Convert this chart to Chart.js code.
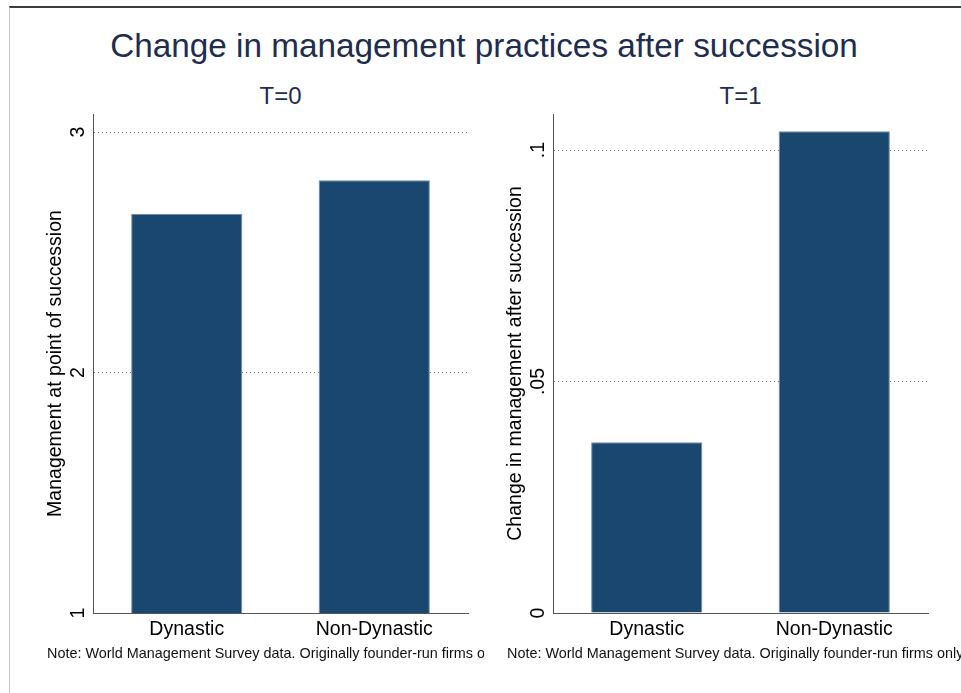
<!DOCTYPE html>
<html>
<head>
<meta charset="utf-8">
<script src="https://cdn.jsdelivr.net/npm/chart.js@4.4.0/dist/chart.umd.min.js"></script>
<style>
  body { margin: 0; background: #fff; width: 961px; height: 693px; overflow: hidden; position: relative;
         font-family: "Liberation Sans", Arial, sans-serif; }
  .frame { position: absolute; left: 9px; top: 6px; right: 0; bottom: 0;
           border-top: 2px solid #3c3c3c; border-left: 1px solid #c4c4c4; }
  .title { position: absolute; top: 28.5px; left: 484px; transform: translateX(-50%);
           font-size: 33.3px; line-height: 33.3px; color: #1f2d4f; white-space: nowrap; }
  .sub { position: absolute; top: 84px; transform: translateX(-50%);
         font-size: 24px; line-height: 24px; color: #1f2d4f; white-space: nowrap; }
  .note { position: absolute; top: 646px; font-size: 14.4px; line-height: 15px;
          white-space: nowrap; overflow: hidden; color: #111; }
  canvas { position: absolute; top: 110px; }
</style>
</head>
<body>
<div class="frame"></div>
<div class="title">Change in management practices after succession</div>
<div class="sub" style="left:280.5px">T=0</div>
<div class="sub" style="left:740.5px">T=1</div>
<canvas id="left" width="486" height="540" style="left:0px"></canvas>
<canvas id="right" width="486" height="540" style="left:460px"></canvas>
<div class="note" style="left:47px; width:437px">Note: World Management Survey data. Originally founder-run firms only</div>
<div class="note" style="left:507px; width:454px">Note: World Management Survey data. Originally founder-run firms only</div>
<script>
var categories = ["Dynastic", "Non-Dynastic"];
var levelAtSuccession = [2.66, 2.80];
var changeAfterSuccession = [0.0369, 0.1041];
var levelTicks = [1, 2, 3];
var levelTickLabels = ["1", "2", "3"];
var changeTicks = [0, 0.05, 0.1];
var changeTickLabels = ["0", ".05", ".1"];

var fontFamily = '"Liberation Sans", Arial, sans-serif';

function panel(id, values, ticks, tickLabels, yMin, yMax, yTitle, tickPad) {
  return new Chart(document.getElementById(id), {
    type: 'bar',
    data: {
      labels: categories,
      datasets: [{
        data: values,
        backgroundColor: '#1a476f',
        borderColor: '#6a88a6',
        borderWidth: 1,
        barPercentage: 0.593,
        categoryPercentage: 1
      }]
    },
    options: {
      responsive: false,
      animation: false,
      devicePixelRatio: 1,
      layout: { padding: { top: 4, right: 18, left: 0, bottom: 0 } },
      plugins: { legend: { display: false }, tooltip: { enabled: false } },
      scales: {
        x: {
          offset: true,
          grid: { display: false, drawTicks: false },
          border: { color: '#555', width: 1 },
          ticks: { color: '#000', font: { size: 19.5, family: fontFamily }, padding: 5 },
          afterFit: function (s) { s.height = 37; s.paddingLeft = 0; s.paddingRight = 0; }
        },
        y: {
          min: yMin,
          max: yMax,
          afterBuildTicks: function (s) {
            s.ticks = ticks.map(function (v) { return { value: v }; });
          },
          ticks: {
            minRotation: 90,
            maxRotation: 90,
            crossAlign: 'center',
            padding: tickPad,
            color: '#000',
            font: { size: 19.5, family: fontFamily },
            callback: function (v) {
              for (var i = 0; i < ticks.length; i++) {
                if (Math.abs(ticks[i] - v) < 1e-9) return tickLabels[i];
              }
              return '';
            }
          },
          grid: { color: '#7a7a7a', drawTicks: false },
          border: { color: '#555', width: 1, dash: [1, 3] },
          title: {
            display: true,
            text: yTitle,
            color: '#000',
            font: { size: 19.5, family: fontFamily },
            padding: { top: 44, bottom: 0 }
          },
          afterFit: function (s) { s.width = 93; s.paddingTop = 0; s.paddingBottom = 0; }
        }
      }
    }
  });
}

panel('left', levelAtSuccession, levelTicks, levelTickLabels, 1, 3.075,
      'Management at point of succession', 9.4);
panel('right', changeAfterSuccession, changeTicks, changeTickLabels, 0, 0.1078,
      'Change in management after succession', 1.3);
</script>
</body>
</html>
